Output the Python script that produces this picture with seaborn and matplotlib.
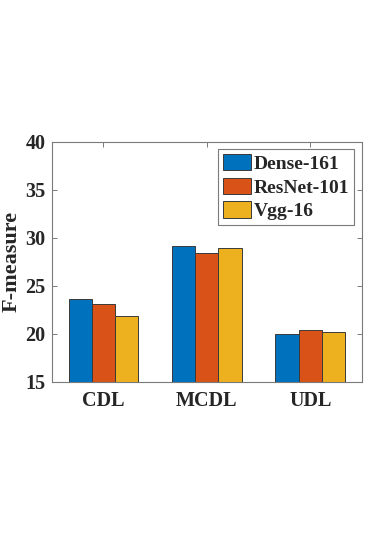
import pandas as pd
import numpy as np
import matplotlib
matplotlib.use('Agg')
import matplotlib.pyplot as plt
import seaborn as sns

# Data
methods = ['CDL', 'MCDL', 'UDL']
models = ['Dense-161', 'ResNet-101', 'Vgg-16']
dense_161 = [23.6, 29.1, 20.0]
resnet_101 = [23.1, 28.4, 20.4]
vgg_16 = [21.8, 28.9, 20.15]
yticks = [15, 20, 25, 30, 35, 40]

# MATLAB default colours
palette = ['#0072BD', '#D95319', '#EDB120']

df = pd.DataFrame({
    'method': methods * 3,
    'model': [models[0]] * 3 + [models[1]] * 3 + [models[2]] * 3,
    'value': dense_161 + resnet_101 + vgg_16,
})

sns.set_style('white')
plt.rcParams['font.family'] = ['Liberation Serif', 'DejaVu Serif']
plt.rcParams['font.weight'] = 'bold'

fig = plt.figure(figsize=(3.82, 5.41), dpi=100)
ax = fig.add_axes([0.1353, 0.2945, 0.8123, 0.4436])

sns.barplot(data=df, x='method', y='value', hue='model', palette=palette,
            width=0.674, gap=0, saturation=1, edgecolor='#3a3a3a',
            linewidth=0.7, ax=ax, errorbar=None)

ax.set_ylim(15, 40)
ax.set_xlim(-0.5, 2.5)
ax.set_yticks(yticks)
ax.set_axisbelow(True)

ax.set_xlabel('')
ax.set_ylabel('F-measure', fontsize=16, fontweight='bold', color='#262626')
ax.yaxis.set_label_coords(-0.097, 0.5)

for s in ax.spines.values():
    s.set_visible(True)
    s.set_color('#7a7a7a')
    s.set_linewidth(0.8)

ax.tick_params(axis='both', direction='in', length=3.5, width=0.7,
               color='#7a7a7a', labelsize=14.5, labelcolor='#262626')
ax.tick_params(axis='y', right=True, left=True, pad=4.5)
ax.tick_params(axis='x', top=True, bottom=True, pad=7)
for lbl in ax.get_xticklabels() + ax.get_yticklabels():
    lbl.set_fontweight('bold')

handles, labels = ax.get_legend_handles_labels()
leg = ax.legend(handles, labels, loc='upper right',
                bbox_to_anchor=(354 / 382, 1 - 149 / 541),
                bbox_transform=fig.transFigure, borderaxespad=0,
                fancybox=False, framealpha=1, edgecolor='#7a7a7a',
                prop={'size': 14, 'weight': 'bold'},
                handlelength=1.45, handleheight=0.93, handletextpad=0.15,
                labelspacing=0.25, borderpad=0.25)
leg.get_frame().set_linewidth(0.8)
for t in leg.get_texts():
    t.set_color('#262626')

fig.savefig('out.png', dpi=100, facecolor='white')
